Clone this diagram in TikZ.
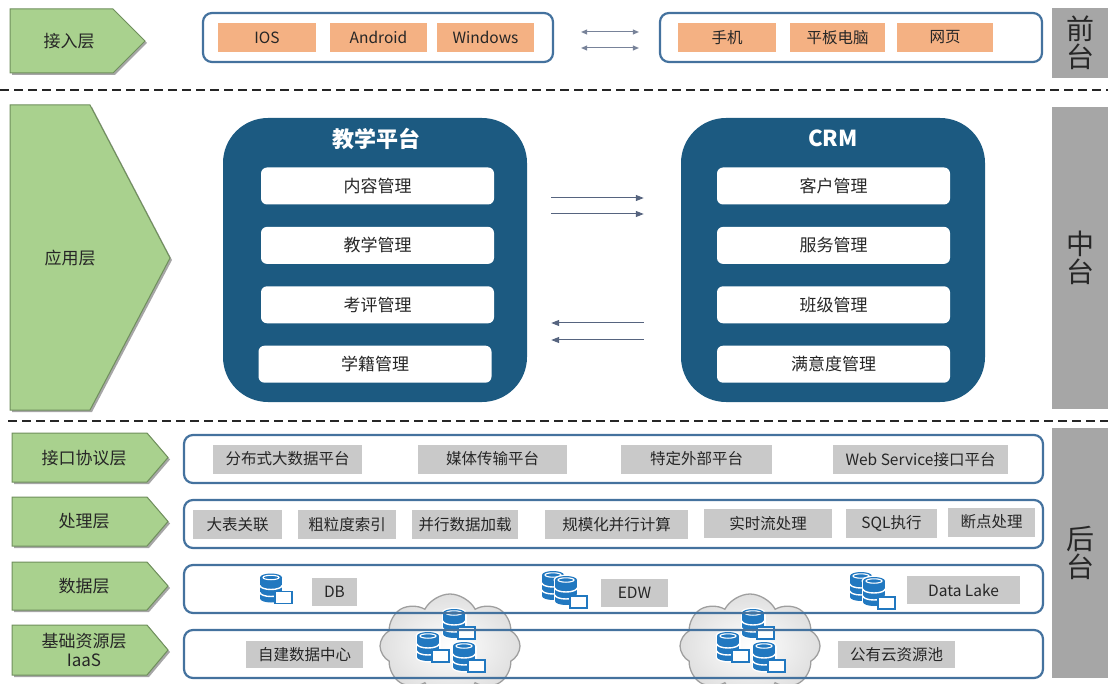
\documentclass[tikz,border=0pt]{standalone}
\usepackage{fontspec}
\setmainfont{Noto Sans CJK SC}
\usetikzlibrary{positioning,calc,arrows.meta,shapes.symbols,shadows}
\definecolor{layergreen}{HTML}{A9D18E}
\definecolor{layeredge}{HTML}{6F8F5C}
\definecolor{platblue}{HTML}{1C5A81}
\definecolor{rowblue}{HTML}{44729E}
\definecolor{devorange}{HTML}{F4B183}
\definecolor{itemgray}{HTML}{C9C9C9}
\definecolor{sidegray}{HTML}{A6A6A6}
\definecolor{dbblue}{HTML}{2178C0}
\definecolor{flowgray}{HTML}{56647F}
\tikzset{
  dbcyl/.pic={
    \fill[white] (-12.5,-11) rectangle (12.5,10);
    \fill[white] (0,-11) ellipse (12.5 and 5.5);
    \fill[white] (0,10) ellipse (12.5 and 5.5);
    \fill[dbblue] (-11,-11) rectangle (11,10);
    \fill[dbblue] (0,-11) ellipse (11 and 4);
    \fill[dbblue] (0,10) ellipse (11 and 4);
    \draw[white,line width=1.1pt] (0,-11) ellipse (8 and 2.2);
    \draw[white,line width=1.4pt] (-11,-3) arc[start angle=180,end angle=0,x radius=11,y radius=4];
    \draw[white,line width=1.4pt] (-11,4) arc[start angle=180,end angle=0,x radius=11,y radius=4];
  },
  dbdoc/.pic={
    \filldraw[fill=white,draw=dbblue,line width=1.3pt] (0,0) rectangle (17,12);
  },
  dbsingle/.pic={
    \pic at (0,0) {dbcyl};
    \pic at (4,3) {dbdoc};
  },
  dbdouble/.pic={
    \pic at (0,0) {dbcyl};
    \pic at (13,5) {dbcyl};
    \pic at (17,10) {dbdoc};
  }
}

\begin{document}
\begin{tikzpicture}[x=1pt,y=-1pt,
    layer/.style={fill=layergreen, draw=layeredge, line width=1pt,
      drop shadow={shadow xshift=2pt, shadow yshift=-2pt, opacity=0.35, fill=black}},
    lbl/.style={font=\fontsize{17}{19}\selectfont, text=black!85, align=center},
    side/.style={fill=sidegray, minimum width=56pt, inner sep=0pt, align=center,
      font=\fontsize{28}{28}\selectfont, text=black!85},
    sepline/.style={line width=2.6pt, dash pattern=on 9pt off 5pt, black!85},
    devbox/.style={draw=rowblue, line width=2.2pt, rounded corners=9pt, minimum height=49pt, inner sep=0pt},
    dev/.style={fill=devorange, minimum height=29pt, inner sep=0pt,
      font=\fontsize{15.5}{17}\selectfont, text=black!85},
    sync/.style={{Triangle[length=6pt,width=5pt]}-{Triangle[length=6pt,width=5pt]}, line width=1pt, draw=flowgray!80},
    plat/.style={fill=platblue, rounded corners=45pt, minimum width=304pt, minimum height=284pt},
    title/.style={font=\bfseries\fontsize{22}{24}\selectfont, text=white},
    mod/.style={fill=white, rounded corners=6pt, minimum width=233pt, minimum height=37pt, inner sep=0pt,
      font=\fontsize{17}{19}\selectfont, text=black!85},
    flow/.style={-{Triangle[length=8pt,width=6pt]}, line width=1pt, draw=flowgray},
    rowbox/.style={draw=rowblue, line width=2.2pt, rounded corners=9pt, minimum width=859pt,
      minimum height=48pt, inner sep=0pt},
    item/.style={fill=itemgray, minimum height=29pt, inner sep=0pt,
      font=\fontsize{15.5}{17}\selectfont, text=black!85},
    cloudy/.style={cloud, cloud puffs=8, cloud puff arc=125, minimum width=140pt, minimum height=104pt,
      draw=gray!75, line width=1.3pt, inner color=white, outer color=gray!25}
  ]
  \useasboundingbox (0,0) rectangle (1108,684);

  % layer tags
  \draw[layer] (10,9) -- (113,9) -- (145,41) -- (113,73) -- (10,73) -- cycle;
  \draw[layer] (10,105) -- (90,105) -- (170,258) -- (90,410) -- (10,410) -- cycle;
  \draw[layer] (12,433) -- (147,433) -- (168,457.5) -- (147,482) -- (12,482) -- cycle;
  \draw[layer] (12,497) -- (147,497) -- (168,521.5) -- (147,546) -- (12,546) -- cycle;
  \draw[layer] (12,562) -- (147,562) -- (168,586) -- (147,610) -- (12,610) -- cycle;
  \draw[layer] (12,625) -- (147,625) -- (168,650) -- (147,675) -- (12,675) -- cycle;
  \node[lbl] (lAcc) at (69,41) {接入层};
  \node[lbl] (lApp) at (70,258) {应用层};
  \node[lbl] (lIfc) at (84,458) {接口协议层};
  \node[lbl] (lPrc) at (84,521) {处理层};
  \node[lbl] (lDat) at (84,586) {数据层};
  \node[lbl] (lRes) at (84,650) {基础资源层\\IaaS};

  % tiers
  \node[side, minimum height=70pt] (front) at (1080,43) {前\\台};
  \node[side, minimum height=302pt] (middle) at (1080,258) {中\\台};
  \node[side, minimum height=250pt] (back) at (1080,553) {后\\台};
  \draw[sepline] (0,90) -- (1108,90);
  \draw[sepline] (8,421) -- (1108,421);

  % access layer
  \node[devbox, minimum width=350pt] (devL) at (378,37.5) {};
  \node[devbox, minimum width=382pt] (devR) at (851,37.5) {};
  \node[dev, minimum width=98pt] (ios) at (267,37.5) {IOS};
  \node[dev, minimum width=97pt] (andr) at (378.5,37.5) {Android};
  \node[dev, minimum width=97pt] (win) at (485.5,37.5) {Windows};
  \node[dev, minimum width=98pt] (phone) at (727,37.5) {手机};
  \node[dev, minimum width=95pt] (pad) at (837.5,37.5) {平板电脑};
  \node[dev, minimum width=96pt] (web) at (945,37.5) {网页};
  \draw[sync] ($(devL.east)+(27,-5.5)$) -- ($(devR.west)+(-20,-5.5)$);
  \draw[sync] ($(devL.east)+(27,10.5)$) -- ($(devR.west)+(-20,10.5)$);

  % application layer
  \node[plat] (tch) at (375,260) {};
  \node[title] (tchT) at (376,139) {教学平台};
  \node[mod] (t1) at (377.5,186) {内容管理};
  \node[mod, below=22pt of t1] (t2) {教学管理};
  \node[mod, below=22pt of t2] (t3) {考评管理};
  \node[mod, below=22pt of t3, xshift=-2.5pt] (t4) {学籍管理};
  \node[plat] (crm) at (833,260) {};
  \node[title] (crmT) at (833,138) {CRM};
  \node[mod] (c1) at (833.5,186) {客户管理};
  \node[mod, below=22pt of c1] (c2) {服务管理};
  \node[mod, below=22pt of c2] (c3) {班级管理};
  \node[mod, below=22pt of c3] (c4) {满意度管理};
  \draw[flow] ($(tch.east)+(24,-62)$) -- ($(crm.west)+(-37,-62)$);
  \draw[flow] ($(tch.east)+(24,-46)$) -- ($(crm.west)+(-37,-46)$);
  \draw[flow] ($(crm.west)+(-37,63)$) -- ($(tch.east)+(24,63)$);
  \draw[flow] ($(crm.west)+(-37,80)$) -- ($(tch.east)+(24,80)$);

  % clouds and stores
  \node[cloudy] (cloudA) at (450,646) {};
  \node[cloudy] (cloudB) at (750,646) {};
  \pic at (454,624) {dbsingle};
  \pic at (428,647) {dbsingle};
  \pic at (464,657) {dbsingle};
  \pic at (753,624) {dbsingle};
  \pic at (728,647) {dbsingle};
  \pic at (764,657) {dbsingle};
  \pic at (271,588.5) {dbsingle};
  \pic at (553,586) {dbdouble};
  \pic at (861,587) {dbdouble};

  % back-end rows
  \node[rowbox] (rIfc) at (613.5,459) {};
  \node[rowbox] (rPrc) at (613.5,524) {};
  \node[rowbox] (rDat) at (613.5,589) {};
  \node[rowbox] (rRes) at (613.5,654) {};

  \node[item, minimum width=149pt] (i1) at (287.5,459) {分布式大数据平台};
  \node[item, minimum width=149pt] (i2) at (492.5,459) {媒体传输平台};
  \node[item, minimum width=151pt] (i3) at (696.5,459) {特定外部平台};
  \node[item, minimum width=175pt] (i4) at (920.5,459.5) {Web Service接口平台};

  \node[item, minimum width=89pt] (p1) at (237.5,524.5) {大表关联};
  \node[item, minimum width=98pt] (p2) at (347,524.5) {粗粒度索引};
  \node[item, minimum width=106pt] (p3) at (465,524.5) {并行数据加载};
  \node[item, minimum width=143pt] (p4) at (616.5,524.5) {规模化并行计算};
  \node[item, minimum width=128pt] (p5) at (768,523.5) {实时流处理};
  \node[item, minimum width=91pt] (p6) at (891.5,523.5) {SQL执行};
  \node[item, minimum width=87pt] (p7) at (991.5,522) {断点处理};

  \node[item, minimum width=45pt, minimum height=28pt] (d1) at (334.5,592) {DB};
  \node[item, minimum width=67pt, minimum height=28pt] (d2) at (634.5,592.5) {EDW};
  \node[item, minimum width=113pt, minimum height=28pt] (d3) at (963.5,590) {Data Lake};

  \node[item, minimum width=117pt, minimum height=27pt] (s1) at (304.5,654.5) {自建数据中心};
  \node[item, minimum width=117pt, minimum height=27pt] (s2) at (896.5,654.5) {公有云资源池};
\end{tikzpicture}
\end{document}
